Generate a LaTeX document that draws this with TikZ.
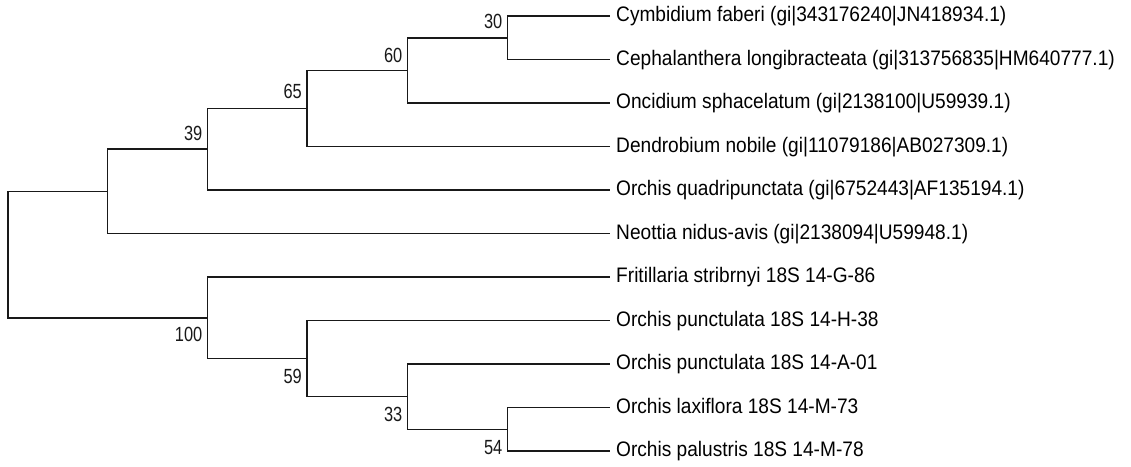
\documentclass[tikz,border=0pt]{standalone}
\usepackage{fontspec}
\newfontfamily\leaffont[FakeStretch=0.91]{Liberation Sans}
\newfontfamily\bootfont[FakeStretch=0.80]{Liberation Sans}
\begin{document}
\begin{tikzpicture}[x=1pt,y=-1pt,
  branch/.style={draw=black!90, line width=1.5pt},
  leaf/.style={anchor=base west, inner sep=0pt, font=\leaffont\fontsize{21}{24}\selectfont, text=black},
  bsup/.style={anchor=base east, inner sep=0pt, font=\bootfont\fontsize{20.5}{24}\selectfont, text=black!90},
]
\useasboundingbox (0,0) rectangle (1131,466);
% leaf ends
\coordinate (l0) at (610,16);
\coordinate (l1) at (610,59.5);
\coordinate (l2) at (610,103);
\coordinate (l3) at (610,146.5);
\coordinate (l4) at (610,190);
\coordinate (l5) at (610,233.5);
\coordinate (l6) at (610,277);
\coordinate (l7) at (610,320.5);
\coordinate (l8) at (610,364);
\coordinate (l9) at (610,407.5);
\coordinate (l10) at (610,451);
% internal nodes
\coordinate (n30) at (507.5,37.75);
\coordinate (n60) at (407.5,70.4);
\coordinate (n65) at (307,108.4);
\coordinate (n39) at (207.5,149.2);
\coordinate (nA) at (107.5,191.4);
\coordinate (n54) at (507.5,429.25);
\coordinate (n33) at (407.5,396.6);
\coordinate (n59) at (307,358.6);
\coordinate (n100) at (207.5,317.8);
\coordinate (root) at (8,254.6);
% branches
\draw[branch] (n30) |- (l0);
\draw[branch] (n30) |- (l1);
\draw[branch] (n60) |- (n30);
\draw[branch] (n60) |- (l2);
\draw[branch] (n65) |- (n60);
\draw[branch] (n65) |- (l3);
\draw[branch] (n39) |- (n65);
\draw[branch] (n39) |- (l4);
\draw[branch] (nA) |- (n39);
\draw[branch] (nA) |- (l5);
\draw[branch] (n54) |- (l9);
\draw[branch] (n54) |- (l10);
\draw[branch] (n33) |- (l8);
\draw[branch] (n33) |- (n54);
\draw[branch] (n59) |- (l7);
\draw[branch] (n59) |- (n33);
\draw[branch] (n100) |- (l6);
\draw[branch] (n100) |- (n59);
\draw[branch] (root) |- (nA);
\draw[branch] (root) |- (n100);
% leaf labels
\node[leaf] (t0) at ([shift={(6,5.5)}]l0) {Cymbidium faberi (gi|343176240|JN418934.1)};
\node[leaf] (t1) at ([shift={(6,5.5)}]l1) {Cephalanthera longibracteata (gi|313756835|HM640777.1)};
\node[leaf] (t2) at ([shift={(6,5.5)}]l2) {Oncidium sphacelatum (gi|2138100|U59939.1)};
\node[leaf] (t3) at ([shift={(6,5.5)}]l3) {Dendrobium nobile (gi|11079186|AB027309.1)};
\node[leaf] (t4) at ([shift={(6,5.5)}]l4) {Orchis quadripunctata (gi|6752443|AF135194.1)};
\node[leaf] (t5) at ([shift={(6,5.5)}]l5) {Neottia nidus-avis (gi|2138094|U59948.1)};
\node[leaf] (t6) at ([shift={(6,5.5)}]l6) {Fritillaria stribrnyi 18S 14-G-86};
\node[leaf] (t7) at ([shift={(6,5.5)}]l7) {Orchis punctulata 18S 14-H-38};
\node[leaf] (t8) at ([shift={(6,5.5)}]l8) {Orchis punctulata 18S 14-A-01};
\node[leaf] (t9) at ([shift={(6,5.5)}]l9) {Orchis laxiflora 18S 14-M-73};
\node[leaf] (t10) at ([shift={(6,5.5)}]l10) {Orchis palustris 18S 14-M-78};
% bootstrap values
\node[bsup] (b30) at ([shift={(-5,-9)}]n30) {30};
\node[bsup] (b60) at ([shift={(-5,-8)}]n60) {60};
\node[bsup] (b65) at ([shift={(-5,-10)}]n65) {65};
\node[bsup] (b39) at ([shift={(-5,-9)}]n39) {39};
\node[bsup] (b100) at ([shift={(-5,24)}]n100) {100};
\node[bsup] (b59) at ([shift={(-5,25)}]n59) {59};
\node[bsup] (b33) at ([shift={(-5,25)}]n33) {33};
\node[bsup] (b54) at ([shift={(-5,25)}]n54) {54};
\end{tikzpicture}
\end{document}
